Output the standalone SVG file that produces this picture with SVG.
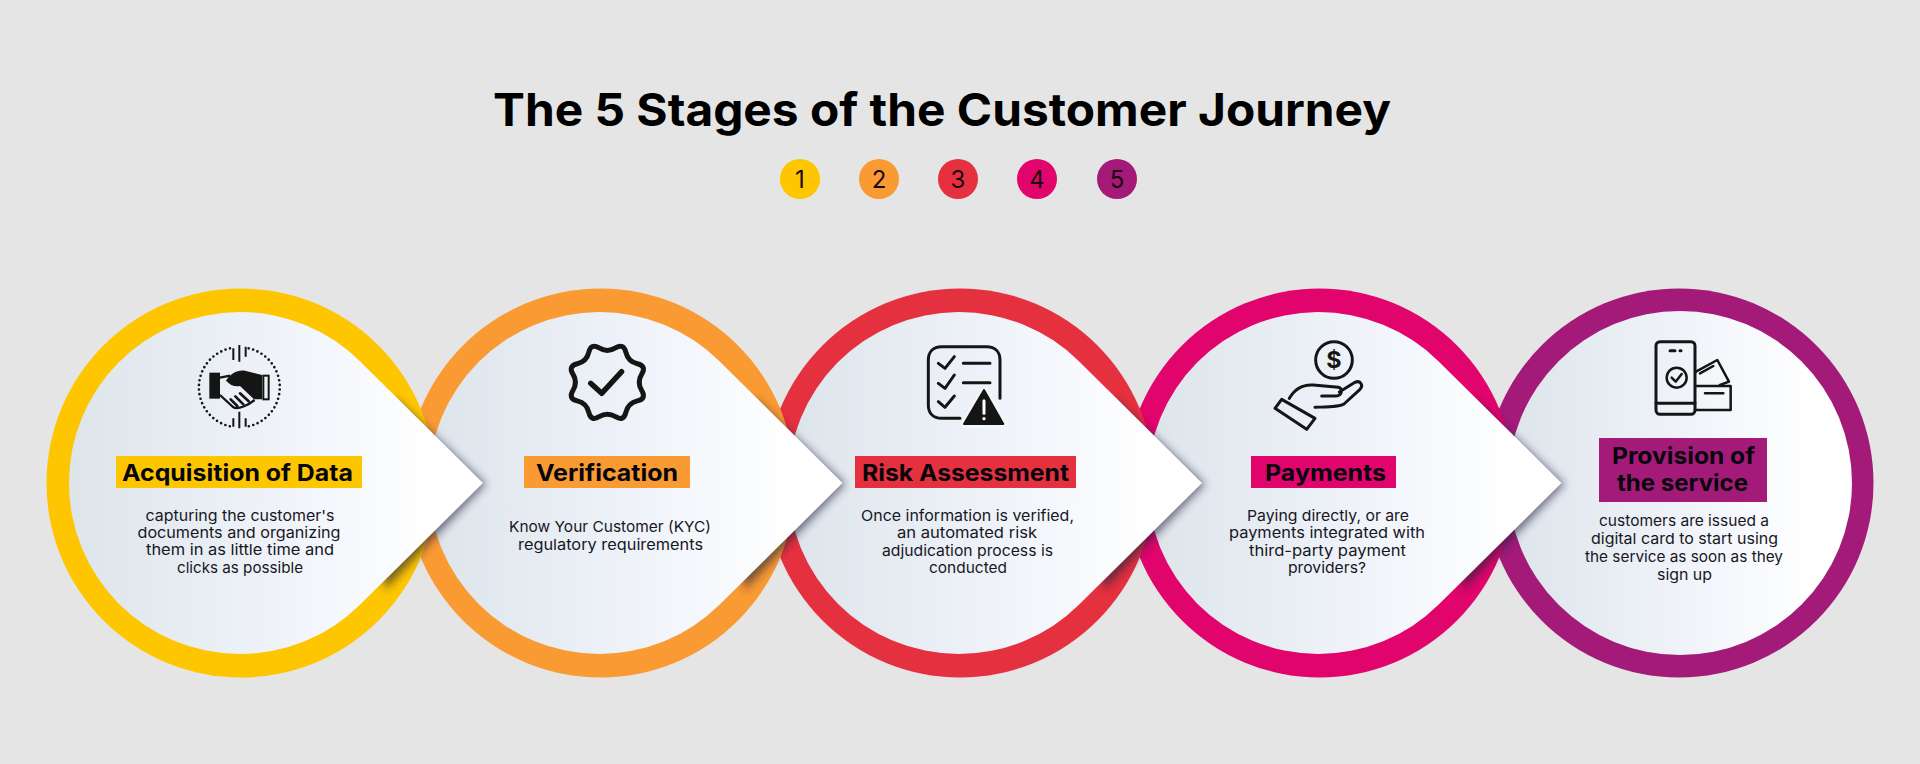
<svg xmlns="http://www.w3.org/2000/svg" width="1920" height="764" viewBox="0 0 1920 764">
<style>
.title{font:700 45px Inter,"Liberation Sans",sans-serif;fill:#000}
.num{font:400 24px Inter,"Liberation Sans",sans-serif;fill:#1a0a10;text-anchor:middle}
.head{font:700 23px Inter,"Liberation Sans",sans-serif;fill:#07060c;text-anchor:middle}
.body{font:400 15px Inter,"Liberation Sans",sans-serif;fill:#17171f;text-anchor:middle}
.ol{fill:none;stroke:#151515;stroke-width:9;stroke-linecap:round;stroke-linejoin:round}
.thin{stroke-width:7.5}
.solid{fill:#151515}
.shadow{fill:#24243c;opacity:.6;filter:url(#blur)}
</style>
<defs>
<linearGradient id="g" x1="0" x2="1" y1="0" y2="0">
<stop offset="0" stop-color="#dde4ea"/><stop offset=".33" stop-color="#e9eef5"/><stop offset=".6" stop-color="#f3f6fb"/><stop offset=".88" stop-color="#fff"/>
</linearGradient>
<filter id="blur" x="-30%" y="-30%" width="160%" height="160%"><feGaussianBlur stdDeviation="4.5"/></filter>
<path id="tear" d="M360.2 361.4A171 171 0 1 0 360.2 604.6L483 483Z" fill="url(#g)"/>
<path id="tearShadow" class="shadow" d="M395 398L486 484L385 590L370 480Z"/>
</defs>
<rect width="1920" height="764" fill="#e5e5e5"/>
<g id="title">
<text class="title" x="493" y="126" textLength="898" lengthAdjust="spacingAndGlyphs">The 5 Stages of the Customer Journey</text>
</g>
<g id="legend">
<circle cx="800" cy="179" r="20" fill="#fec601"/><text class="num" x="800" y="188">1</text>
<circle cx="879" cy="179" r="20" fill="#f99a33"/><text class="num" x="879" y="188">2</text>
<circle cx="958" cy="179" r="20" fill="#e5303f"/><text class="num" x="958" y="188">3</text>
<circle cx="1037" cy="179" r="20" fill="#e1046c"/><text class="num" x="1037" y="188">4</text>
<circle cx="1117" cy="179" r="20" fill="#a31a79"/><text class="num" x="1117" y="188">5</text>
</g>

<g id="stage5">
<circle cx="1679" cy="483" r="194.5" fill="#a31a79"/>
<circle cx="1680" cy="483" r="172" fill="url(#g)"/>
<g transform="translate(1630 330) scale(.3333)">
<rect class="ol" x="78" y="35" width="117" height="218" rx="12"/>
<path class="ol" d="M78 220H195M120 62H135M150 62H153"/>
<circle class="ol thin" cx="140" cy="143" r="30"/>
<path class="ol thin" d="M125 143L137 155L155 132"/>
<path class="ol thin" d="M198 125L262 90L297 155L270 165M210 130L250 108"/>
<path class="ol thin" d="M198 168H302V240H195M225 190H280"/>
</g>
<rect x="1599" y="438" width="168" height="64" fill="#a31a79"/>
<text class="head" x="1683.5" y="464" textLength="143" lengthAdjust="spacingAndGlyphs">Provision of</text>
<text class="head" x="1682.5" y="491" textLength="131" lengthAdjust="spacingAndGlyphs">the service</text>
<text class="body" x="1684" y="526" textLength="170" lengthAdjust="spacingAndGlyphs">customers are issued a</text>
<text class="body" x="1684.5" y="544" textLength="187" lengthAdjust="spacingAndGlyphs">digital card to start using</text>
<text class="body" x="1684" y="562" textLength="198" lengthAdjust="spacingAndGlyphs">the service as soon as they</text>
<text class="body" x="1684.5" y="580" textLength="55" lengthAdjust="spacingAndGlyphs">sign up</text>
</g>

<g id="stage4">
<circle cx="1319.5" cy="483" r="194.5" fill="#e1046c"/>
<use href="#tearShadow" x="1078.5"/>
<use href="#tear" x="1078.5"/>
<g transform="translate(1260 330) scale(.3333)">
<circle class="ol" cx="222" cy="90" r="55"/>
<text x="222" y="115" font-family="Inter,'Liberation Sans',sans-serif" font-weight="700" font-size="70" text-anchor="middle" fill="#151515">$</text>
<path class="ol" d="M88 205C105 175 130 163 160 165L235 172C250 175 247 198 225 198H185M238 186L285 157C300 150 312 165 300 178L252 222C240 230 215 230 165 232"/>
<path class="ol" d="M65 208L165 265L140 298L45 235Z"/>
</g>
<rect x="1251" y="456" width="145" height="32" fill="#e1046c"/>
<text class="head" x="1325.5" y="481" textLength="121" lengthAdjust="spacingAndGlyphs">Payments</text>
<text class="body" x="1328" y="521" textLength="162" lengthAdjust="spacingAndGlyphs">Paying directly, or are</text>
<text class="body" x="1327" y="538" textLength="196" lengthAdjust="spacingAndGlyphs">payments integrated with</text>
<text class="body" x="1327.5" y="556" textLength="157" lengthAdjust="spacingAndGlyphs">third-party payment</text>
<text class="body" x="1327" y="573" textLength="78" lengthAdjust="spacingAndGlyphs">providers?</text>
</g>

<g id="stage3">
<circle cx="960" cy="483" r="194.5" fill="#e5303f"/>
<use href="#tearShadow" x="719"/>
<use href="#tear" x="719"/>
<g transform="translate(910 330) scale(.3333)">
<path class="ol" d="M150 265H95C70 265 55 250 55 225V90C55 65 70 50 95 50H230C255 50 270 65 270 90V205"/>
<path class="ol" d="M85 100L105 115L133 80M85 160L105 175L133 135M85 215L105 232L133 198M160 100H240M160 158H240"/>
<path d="M222 180L280 282H162Z" fill="#151515" stroke="#f3f6fa" stroke-width="22" stroke-linejoin="round"/>
<path d="M222 180L280 282H162Z" fill="#151515" stroke="#151515" stroke-width="6" stroke-linejoin="round"/>
<path d="M222 212V250" stroke="#fff" stroke-width="9" stroke-linecap="round"/>
<circle cx="222" cy="266" r="5" fill="#fff"/>
</g>
<rect x="855" y="456" width="221" height="32" fill="#e5303f"/>
<text class="head" x="965.5" y="481" textLength="207" lengthAdjust="spacingAndGlyphs">Risk Assessment</text>
<text class="body" x="967.5" y="521" textLength="213" lengthAdjust="spacingAndGlyphs">Once information is verified,</text>
<text class="body" x="967" y="538" textLength="140" lengthAdjust="spacingAndGlyphs">an automated risk</text>
<text class="body" x="967.5" y="556" textLength="171" lengthAdjust="spacingAndGlyphs">adjudication process is</text>
<text class="body" x="968" y="573" textLength="78" lengthAdjust="spacingAndGlyphs">conducted</text>
</g>

<g id="stage2">
<circle cx="600.5" cy="483" r="194.5" fill="#f99a33"/>
<use href="#tearShadow" x="359.5"/>
<use href="#tear" x="359.5"/>
<g transform="translate(550 330) scale(.3333)">
<path transform="translate(172 157)" fill="none" stroke="#151515" stroke-width="15" d="M103.2 24.5Q118.3 49 90.2 55.6Q62.2 62.2 55.6 90.2Q49 118.3 24.5 103.2Q0 88 -24.5 103.2Q-49 118.3 -55.6 90.2Q-62.2 62.2 -90.2 55.6Q-118.3 49 -103.2 24.5Q-88 0 -103.2 -24.5Q-118.3 -49 -90.2 -55.6Q-62.2 -62.2 -55.6 -90.2Q-49 -118.3 -24.5 -103.2Q0 -88 24.5 -103.2Q49 -118.3 55.6 -90.2Q62.2 -62.2 90.2 -55.6Q118.3 -49 103.2 -24.5Q88 0 103.2 24.5Z"/>
<path class="ol" style="stroke-width:16" d="M122 160L155 190L215 125"/>
</g>
<rect x="524" y="456" width="166" height="32" fill="#f99a33"/>
<text class="head" x="607" y="481" textLength="142" lengthAdjust="spacingAndGlyphs">Verification</text>
<text class="body" x="610" y="532" textLength="202" lengthAdjust="spacingAndGlyphs">Know Your Customer (KYC)</text>
<text class="body" x="610.5" y="550" textLength="185" lengthAdjust="spacingAndGlyphs">regulatory requirements</text>
</g>

<g id="stage1">
<circle cx="241" cy="483" r="194.5" fill="#fec601"/>
<use href="#tearShadow"/>
<use href="#tear"/>
<g transform="translate(180 330) scale(.3333)">
<path d="M150 55A120 120 0 0 0 150 289M206 55A120 120 0 0 1 206 289" fill="none" stroke="#151515" stroke-width="8" stroke-linecap="round" stroke-dasharray="0 14"/>
<path d="M160 55V90M178 45V95M197 50V80M160 265V290M178 245V295M197 265V290" stroke="#151515" stroke-width="6" fill="none"/>
<rect class="solid" x="88" y="128" width="32" height="78"/>
<path class="solid" d="M138 152C150 130 175 118 195 122L246 135V208H222L180 168C165 172 150 165 138 152Z"/>
<rect x="250" y="137" width="16" height="71" fill="none" stroke="#151515" stroke-width="6"/>
<path fill="none" stroke="#151515" stroke-width="7" d="M120 143L150 137M120 195L160 232C175 240 205 225 224 210"/>
<path fill="none" stroke="#151515" stroke-width="8" stroke-linecap="round" d="M152 208L172 228M166 199L190 223M180 190L206 214"/>
</g>
<rect x="116" y="456" width="246" height="32" fill="#fec601"/>
<text class="head" x="237.5" y="481" textLength="231" lengthAdjust="spacingAndGlyphs">Acquisition of Data</text>
<text class="body" x="240" y="521" textLength="189" lengthAdjust="spacingAndGlyphs">capturing the customer's</text>
<text class="body" x="239" y="538" textLength="203" lengthAdjust="spacingAndGlyphs">documents and organizing</text>
<text class="body" x="240" y="555" textLength="188" lengthAdjust="spacingAndGlyphs">them in as little time and</text>
<text class="body" x="240" y="573" textLength="126" lengthAdjust="spacingAndGlyphs">clicks as possible</text>
</g>
</svg>
